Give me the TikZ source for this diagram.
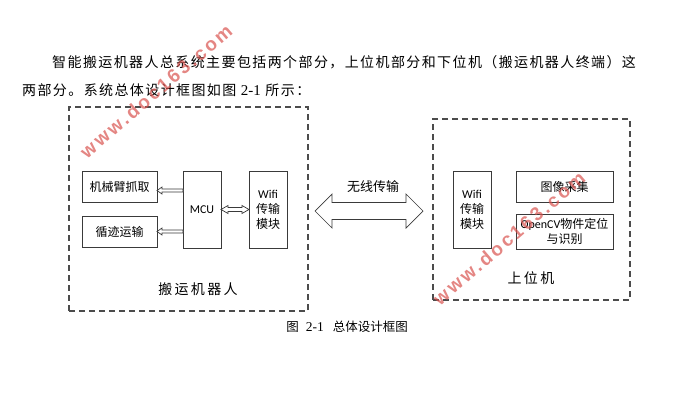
\documentclass[tikz,border=0pt]{standalone}
\usepackage{fontspec}
\setmainfont{Liberation Serif}
\setsansfont{Carlito}
\newfontfamily\cjk{Noto Sans CJK SC}
\newfontfamily\cjkpara[LetterSpace=10]{Noto Sans CJK SC}
\newfontfamily\wmfont[LetterSpace=14]{Liberation Sans}
\usetikzlibrary{calc}
\definecolor{frame}{HTML}{3A3A3A}
\definecolor{wmred}{HTML}{D9534F}
\tikzset{
  every picture/.style={line join=miter},
  block/.style={draw=frame, line width=0.8pt, inner sep=0pt, outer sep=0pt,
    align=center, font=\fontsize{12}{15}\selectfont\cjk},
  part/.style={draw=black!70, line width=1.3pt, dash pattern=on 6pt off 4pt,
    inner sep=0pt, outer sep=0pt},
  hollow/.style={draw=frame, line width=0.7pt, fill=white},
  label/.style={inner sep=0pt, font=\fontsize{14}{16}\selectfont\cjk},
  % red site watermark across the picture
  watermark/.style={inner sep=0pt, text=wmred, opacity=0.7,
    font=\fontsize{19}{19}\selectfont\bfseries\wmfont},
}
% hollow arrow pointing left: #1 tip, #2 tail, #3 half shaft, #4 half head, #5 head length
\newcommand{\hollowleft}[5]{%
  \draw[hollow] let \p1=(#1), \p2=(#2) in
    (\x1,\y1) -- (\x1+#5,\y1+#4) -- (\x1+#5,\y1+#3) -- (\x2,\y1+#3)
    -- (\x2,\y1-#3) -- (\x1+#5,\y1-#3) -- (\x1+#5,\y1-#4) -- cycle;}
% hollow arrow with two heads: #1 left tip, #2 right tip
\newcommand{\hollowboth}[5]{%
  \draw[hollow] let \p1=(#1), \p2=(#2) in
    (\x1,\y1) -- (\x1+#5,\y1+#4) -- (\x1+#5,\y1+#3) -- (\x2-#5,\y1+#3)
    -- (\x2-#5,\y1+#4) -- (\x2,\y1) -- (\x2-#5,\y1-#4) -- (\x2-#5,\y1-#3)
    -- (\x1+#5,\y1-#3) -- (\x1+#5,\y1-#4) -- cycle;}

\begin{document}
\begin{tikzpicture}[x=1pt, y=-1pt]
  \useasboundingbox (0,0) rectangle (691,400);
  % text above the figure
  \node[anchor=west, inner sep=0pt, font=\fontsize{14}{16}\selectfont\cjkpara] (para1) at (52,62)
    {智能搬运机器人总系统主要包括两个部分，上位机部分和下位机（搬运机器人终端）这};
  \node[anchor=west, inner sep=0pt, font=\fontsize{14}{16}\selectfont\cjkpara] (para2) at (22,90)
    {两部分。系统总体设计框图如图 {\rmfamily\fontsize{15}{16}\selectfont 2-1} 所示：};
  % robot side
  \node[part, minimum width=239pt, minimum height=204pt] (robot) at (188.5,209) {};
  \node[block, minimum width=75pt, minimum height=31pt] (arm) at (119.5,186.5) {机械臂抓取};
  \node[block, minimum width=75pt, minimum height=31pt] (track) at (119.5,231.5) {循迹运输};
  \node[block, minimum width=38pt, minimum height=77pt] (mcu) at (202,209.5) {\sffamily MCU};
  \node[block, minimum width=38pt, minimum height=77pt] (wifiL) at (268,209.5)
    {{\sffamily Wifi}\\传输\\模块};
  \node[label] (robotlbl) at (198,289) {搬\,运\,机\,器\,人};
  \hollowleft{$(arm.east)+(0,4)$}{mcu.west}{1.5pt}{3.5pt}{5pt}
  \hollowleft{track.east}{mcu.west}{1.5pt}{3.5pt}{5pt}
  \hollowboth{mcu.east}{wifiL.west}{2pt}{4pt}{7pt}
  % host side
  \node[part, minimum width=197pt, minimum height=181pt] (host) at (531.5,209.5) {};
  \node[block, minimum width=38pt, minimum height=77pt] (wifiR) at (472,209.5)
    {{\sffamily Wifi}\\传输\\模块};
  \node[block, minimum width=97pt, minimum height=31pt] (camera) at (564.5,186.5) {图像采集};
  \node[block, minimum width=97pt, minimum height=35pt] (opencv) at (564.5,231.5)
    {{\sffamily OpenCV}物件定位\\与识别};
  \node[label] (hostlbl) at (531,278) {上\,位\,机};
  % wireless link
  \coordinate (linkL) at ($(robot.east)+(7,2)$);
  \coordinate (linkR) at ($(host.west)+(-10,0)$);
  \hollowboth{linkL}{linkR}{8.5pt}{17pt}{17pt}
  \node[label, font=\fontsize{13}{15}\selectfont\cjk] (linklbl) at (373,187) {无线传输};
  % caption
  \node[inner sep=0pt, font=\fontsize{12.5}{14}\selectfont\cjk] (caption) at (347,327)
    {图\hspace{7pt}{\rmfamily\fontsize{13.5}{14}\selectfont 2-1}\hspace{9pt}总体设计框图};
  % watermarks
  \node[watermark, rotate=40.7] (wm1) at (156,91) {www.doc163.com};
  \node[watermark, rotate=40.7] (wm2) at (509,238) {www.doc163.com};
\end{tikzpicture}
\end{document}
